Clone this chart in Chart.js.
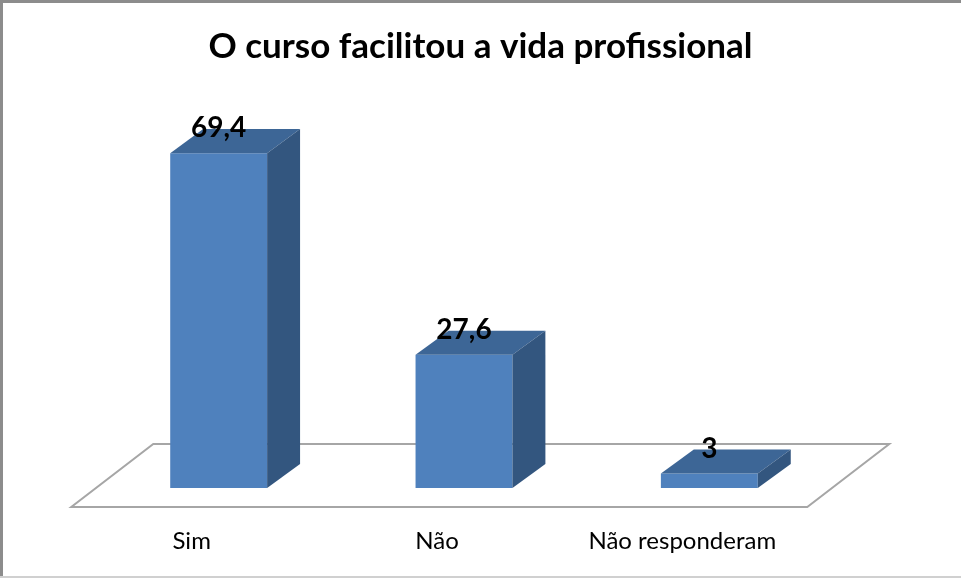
<!DOCTYPE html>
<html>
<head>
<meta charset="utf-8">
<script src="https://cdn.jsdelivr.net/npm/chart.js@4"></script>
<style>
  html, body { margin: 0; padding: 0; background: #fff; }
  #wrap { position: relative; width: 961px; height: 578px; }
  canvas { display: block; }
</style>
</head>
<body>
<div id="wrap"><canvas id="chart" width="961" height="578"></canvas></div>
<script>
// chart data
const categories = ["Sim", "Não", "Não responderam"];
const values = [69.4, 27.6, 3];
const yMax = 80;

const frontColor = "#4F81BD";
const topColor = "#3D6696";
const sideColor = "#33567F";

// draws the floor, the 3d faces, the value labels and the frame
const box3d = {
  id: "box3d",
  beforeDatasetsDraw(chart) {
    const { ctx, chartArea: a } = chart;
    const k = 82 / 63;
    const fy = a.bottom + 19, by = a.bottom - 44;
    ctx.save();
    ctx.strokeStyle = "#A6A6A6";
    ctx.lineWidth = 2;
    ctx.beginPath();
    ctx.moveTo(a.left - 19 * k, fy);
    ctx.lineTo(a.right - 19 * k, fy);
    ctx.lineTo(a.right + 44 * k, by);
    ctx.lineTo(a.left + 44 * k, by);
    ctx.closePath();
    ctx.stroke();
    ctx.restore();
  },
  afterDatasetsDraw(chart) {
    const { ctx } = chart;
    const meta = chart.getDatasetMeta(0);
    ctx.save();
    meta.data.forEach((bar, i) => {
      const x1 = bar.x - bar.width / 2, x2 = bar.x + bar.width / 2;
      const top = bar.y, bottom = bar.base;
      const dx = bar.width * 0.34, dy = dx * 0.73;
      // top face
      ctx.fillStyle = topColor;
      ctx.beginPath();
      ctx.moveTo(x1, top);
      ctx.lineTo(x1 + dx, top - dy);
      ctx.lineTo(x2 + dx, top - dy);
      ctx.lineTo(x2, top);
      ctx.closePath();
      ctx.fill();
      // side face
      ctx.fillStyle = sideColor;
      ctx.beginPath();
      ctx.moveTo(x2, top);
      ctx.lineTo(x2 + dx, top - dy);
      ctx.lineTo(x2 + dx, bottom - dy);
      ctx.lineTo(x2, bottom);
      ctx.closePath();
      ctx.fill();
      // value label
      ctx.fillStyle = "#000";
      ctx.font = "bold 28px Lato, 'Open Sans', sans-serif";
      ctx.textAlign = "center";
      ctx.textBaseline = "alphabetic";
      ctx.fillText(String(values[i]).replace(".", ","), bar.x, top - 16);
    });
    ctx.restore();
  },
  afterDraw(chart) {
    const { ctx, width, height } = chart;
    ctx.save();
    ctx.fillStyle = "#8C8C8C";
    ctx.fillRect(0, 0, width, 3);
    ctx.fillRect(0, 0, 3, height);
    ctx.fillStyle = "#D0D0D0";
    ctx.fillRect(0, height - 2, width, 2);
    ctx.restore();
  }
};

new Chart(document.getElementById("chart").getContext("2d"), {
  type: "bar",
  data: {
    labels: categories,
    datasets: [{
      data: values,
      backgroundColor: frontColor,
      borderWidth: 0,
      barPercentage: 0.79,
      categoryPercentage: 0.5
    }]
  },
  options: {
    responsive: false,
    animation: false,
    layout: { padding: { left: 96, right: 96, top: 0, bottom: 0 } },
    scales: {
      x: {
        grid: { display: false, drawTicks: false },
        border: { display: false },
        ticks: {
          color: "#000",
          font: { family: "Lato, 'Open Sans', sans-serif", size: 24 },
          padding: 39,
          labelOffset: -27,
          maxRotation: 0
        },
        afterFit(scale) { scale.height = 90; }
      },
      y: {
        display: false,
        min: 0,
        max: yMax
      },
      // empty spacer on the right, room for the 3d depth
      yRight: {
        position: "right",
        grid: { display: false },
        border: { display: false },
        ticks: { display: false },
        afterFit(scale) { scale.width = 33; }
      }
    },
    plugins: {
      legend: { display: false },
      tooltip: { enabled: false },
      title: {
        display: true,
        text: "O curso facilitou a vida profissional",
        color: "#000",
        font: { family: "Lato, 'Open Sans', sans-serif", size: 35, weight: "bold", lineHeight: 1.2 },
        padding: { top: 26, bottom: 34 }
      }
    }
  },
  plugins: [box3d]
});
</script>
</body>
</html>
